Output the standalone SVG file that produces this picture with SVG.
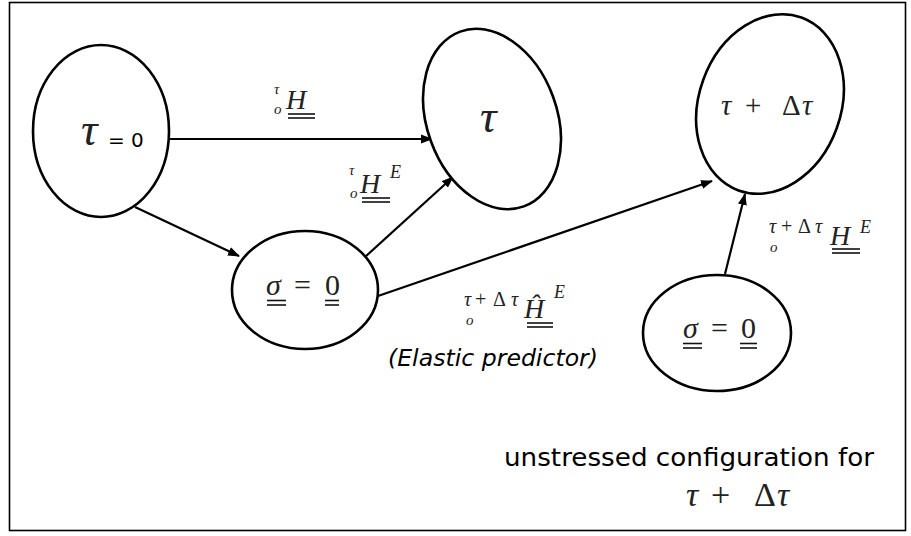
<svg xmlns="http://www.w3.org/2000/svg" width="911" height="536" viewBox="0 0 911 536">
<style>
.node{fill:#fff;stroke:#000;stroke-width:2.6}
.conn{fill:none;stroke:#000;stroke-width:2.2}
.m{font-family:"Liberation Serif","DejaVu Serif",serif;fill:#222}
.i{font-style:italic}
.s{font-family:"DejaVu Sans","Liberation Sans",sans-serif;fill:#000}
.u{stroke:#111;stroke-width:1.6}
</style>
<defs>
<marker id="ah" markerWidth="12" markerHeight="10" refX="11" refY="5" orient="auto" markerUnits="userSpaceOnUse"><path d="M0,0.5 L12,5 L0,9.5 z" fill="#000"/></marker>
</defs>
<rect x="9.5" y="2.5" width="896" height="528" fill="#fff" stroke="#000" stroke-width="1.6"/>
<g id="connectors">
<path class="conn" d="M170,139 L432,139" marker-end="url(#ah)"/>
<path class="conn" d="M135,207 L239,256" marker-end="url(#ah)"/>
<path class="conn" d="M365,257 L453,177" marker-end="url(#ah)"/>
<path class="conn" d="M378,296 L712,181" marker-end="url(#ah)"/>
<path class="conn" d="M725,274 L745,194" marker-end="url(#ah)"/>
</g>
<g id="n_tau0">
<ellipse class="node" cx="101" cy="131" rx="68" ry="86"/>
<text class="m i" x="81" y="145" font-size="46">τ</text>
<text class="s" x="108" y="147" font-size="20">= 0</text>
</g>
<g id="n_tau">
<ellipse class="node" cx="492" cy="119" rx="65" ry="93" transform="rotate(-20 492 119)"/>
<text class="m i" x="480" y="132" font-size="46">τ</text>
</g>
<g id="n_taudt">
<ellipse class="node" cx="770" cy="104" rx="71" ry="92" transform="rotate(20 770 104)"/>
<text class="m" y="115" font-size="29"><tspan class="i" x="721">τ</tspan><tspan x="745">+</tspan><tspan x="782">Δ</tspan><tspan class="i" x="802">τ</tspan></text>
</g>
<g id="n_sigma1">
<ellipse class="node" cx="305" cy="290" rx="73" ry="59"/>
<text class="m" y="295" font-size="30"><tspan class="i" x="266">σ</tspan><tspan x="294">=</tspan><tspan x="325">0</tspan></text>
<line class="u" x1="267" y1="300.5" x2="286" y2="300.5"/><line class="u" x1="267" y1="305" x2="286" y2="305"/>
<line class="u" x1="325" y1="300.5" x2="339" y2="300.5"/><line class="u" x1="325" y1="305" x2="339" y2="305"/>
</g>
<g id="n_sigma2">
<ellipse class="node" cx="717" cy="333" rx="74" ry="58"/>
<text class="m" y="338" font-size="30"><tspan class="i" x="683">σ</tspan><tspan x="711">=</tspan><tspan x="741">0</tspan></text>
<line class="u" x1="683" y1="343.5" x2="702" y2="343.5"/><line class="u" x1="683" y1="348" x2="702" y2="348"/>
<line class="u" x1="740" y1="343.5" x2="757" y2="343.5"/><line class="u" x1="740" y1="348" x2="757" y2="348"/>
</g>
<g id="labels">
<text class="m i" x="274" y="94" font-size="15">τ</text>
<text class="m i" x="274" y="114" font-size="15">o</text>
<text class="m i" x="286" y="109" font-size="28">H</text>
<line class="u" x1="288" y1="114" x2="315" y2="114"/><line class="u" x1="288" y1="118" x2="315" y2="118"/>

<text class="m i" x="349" y="175" font-size="15">τ</text>
<text class="m i" x="350" y="198" font-size="15">o</text>
<text class="m i" x="360" y="193" font-size="28">H</text>
<text class="m i" x="390" y="178" font-size="18">E</text>
<line class="u" x1="362" y1="198" x2="390" y2="198"/><line class="u" x1="362" y1="202" x2="390" y2="202"/>

<text class="m" y="233" font-size="20"><tspan class="i" x="769">τ</tspan><tspan x="781">+</tspan><tspan x="798">Δ</tspan><tspan class="i" x="815">τ</tspan></text>
<text class="m i" x="770" y="252" font-size="15">o</text>
<text class="m i" x="830" y="245" font-size="28">H</text>
<text class="m i" x="860" y="233" font-size="18">E</text>
<line class="u" x1="832" y1="249" x2="860" y2="249"/><line class="u" x1="832" y1="253" x2="860" y2="253"/>

<text class="m" y="306" font-size="20"><tspan class="i" x="464">τ</tspan><tspan x="475">+</tspan><tspan x="493">Δ</tspan><tspan class="i" x="511">τ</tspan></text>
<text class="m i" x="466" y="325" font-size="15">o</text>
<text class="m i" x="524" y="318" font-size="28">Ĥ</text>
<text class="m i" x="554" y="298" font-size="18">E</text>
<line class="u" x1="527" y1="323" x2="553" y2="323"/><line class="u" x1="527" y1="327" x2="553" y2="327"/>

<text class="s" x="388" y="366" font-size="23" font-style="italic" textLength="210" lengthAdjust="spacingAndGlyphs">(Elastic predictor)</text>
<text class="s" x="504" y="466" font-size="25" textLength="370" lengthAdjust="spacingAndGlyphs">unstressed configuration for</text>
<text class="m" y="506" font-size="34"><tspan class="i" x="686">τ</tspan><tspan x="711">+</tspan><tspan x="754">Δ</tspan><tspan class="i" x="777">τ</tspan></text>
</g>
</svg>
